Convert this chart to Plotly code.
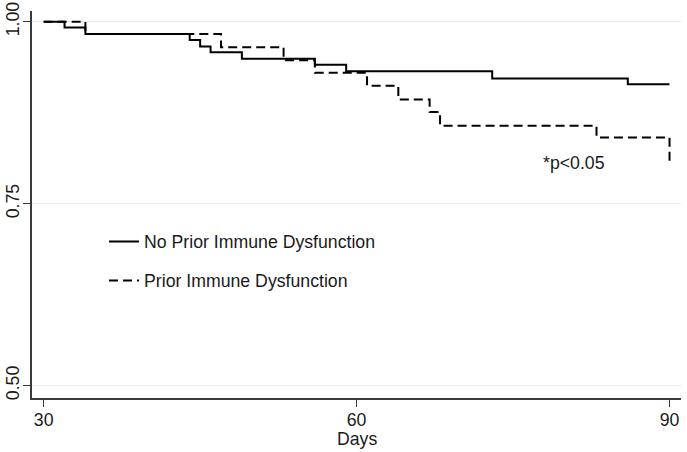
import plotly.graph_objects as go

# Kaplan-Meier style survival estimates
days_no_prior = [30, 32, 34, 44, 45, 46, 49, 56, 59, 73, 86, 90]
surv_no_prior = [1.0, 0.992, 0.983, 0.975, 0.966, 0.958, 0.949, 0.941, 0.932, 0.922, 0.914, 0.914]

days_prior = [30, 34, 47, 53, 56, 61, 64, 67, 68, 83, 90]
surv_prior = [1.0, 0.983, 0.965, 0.947, 0.930, 0.912, 0.893, 0.876, 0.857, 0.841, 0.806]

x_ticks = [30, 60, 90]
y_ticks = [0.50, 0.75, 1.00]
y_tick_labels = ["0.50", "0.75", "1.00"]

series_names = ["No Prior Immune Dysfunction", "Prior Immune Dysfunction"]
p_label = "*p<0.05"
x_title = "Days"

FS = 17.7

fig = go.Figure()
fig.add_trace(go.Scatter(
    x=days_no_prior, y=surv_no_prior, mode="lines", line_shape="hv",
    name=series_names[0], legendgroup="a",
    line=dict(color="black", width=2)))
fig.add_trace(go.Scatter(
    x=days_prior, y=surv_prior, mode="lines", line_shape="hv",
    name=series_names[1], legendgroup="b",
    line=dict(color="black", width=2, dash="9px,5px")))

fig.add_annotation(x=80.85, y=0.806, text=p_label, showarrow=False,
                   font=dict(size=FS, color="#1a1a1a"))
# x-axis title placed just under the tick labels
fig.add_annotation(x=60, y=-0.106, xref="x", yref="paper", text=x_title,
                   showarrow=False, yanchor="middle", borderpad=0,
                   font=dict(size=FS, color="#1a1a1a"))

axis_color = "#3a3a3a"
fig.update_layout(
    width=687, height=452,
    margin=dict(l=32, r=6, t=11, b=54),
    plot_bgcolor="white", paper_bgcolor="white",
    font=dict(family="Liberation Sans, Arial, sans-serif", size=FS, color="#1a1a1a"),
    showlegend=True,
    legend=dict(x=0.111, y=0.451, xanchor="left", yanchor="top",
                bgcolor="rgba(0,0,0,0)", borderwidth=0, tracegroupgap=13,
                font=dict(size=FS, color="#1a1a1a")),
    xaxis=dict(range=[28.88, 91.1], tickvals=x_ticks, ticks="outside", ticklen=7,
               tickwidth=1, tickcolor=axis_color, showline=True, linecolor=axis_color,
               ticklabelstandoff=-2,
               linewidth=1.5, showgrid=False, zeroline=False, automargin=False),
    yaxis=dict(range=[0.483, 1.0147], tickvals=y_ticks, ticktext=y_tick_labels,
               tickangle=-90, ticks="outside", ticklen=7, tickwidth=1,
               ticklabelstandoff=-3,
               tickcolor=axis_color, showline=True, linecolor=axis_color,
               linewidth=1.5, showgrid=True, gridcolor="#e6eded", gridwidth=1,
               zeroline=False, automargin=False),
)

# remove the browser's default 8px body margin so the figure fills the window
fig.write_html("out.html", config={"displayModeBar": False},
               post_script="document.body.style.margin='0';")
